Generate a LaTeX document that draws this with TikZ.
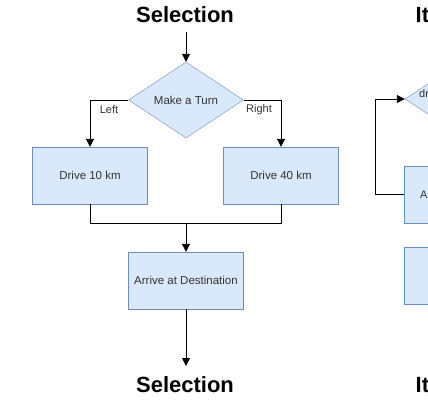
\documentclass[tikz,border=0pt]{standalone}
\usepackage{fontspec}
\setmainfont{Liberation Sans}
\usetikzlibrary{shapes.geometric,arrows.meta}
\definecolor{boxfill}{HTML}{DAE8FC}
\definecolor{boxline}{HTML}{6C8EBF}
\definecolor{txt}{HTML}{333333}
\begin{document}
\begin{tikzpicture}[x=1pt,y=-1pt,
  box/.style={draw=boxline, fill=boxfill, minimum width=115pt, minimum height=57pt, inner sep=0pt, font=\fontsize{11.5}{14}\selectfont, text=txt},
  dia/.style={diamond, draw=boxline, fill=boxfill, minimum width=115pt, minimum height=76pt, inner sep=0pt, font=\fontsize{11.5}{14}\selectfont, text=txt},
  title/.style={font=\fontsize{22}{26}\selectfont\bfseries, inner sep=0pt},
  lbl/.style={font=\fontsize{11}{13}\selectfont, text=txt, inner sep=0pt},
  conn/.style={draw=black, line width=0.9pt},
  arr/.style={conn, -{Triangle[length=8pt,width=8pt]}}]
\useasboundingbox (0,0) rectangle (428,400);
\clip (0,0) rectangle (428,400);
% Selection flowchart
\node[title] (t1) at (185,14.5) {Selection};
\node[dia] (d) at (186,100) {Make a Turn};
\node[box] (b1) at (90,175.5) {Drive 10 km};
\node[box] (b2) at (281,175.5) {Drive 40 km};
\node[box] (b3) at (186,280.5) {Arrive at Destination};
\node[title] (t2) at (185,385) {Selection};
\coordinate (top) at (186,32);
\coordinate (bot) at (186,366);
\coordinate (m) at (186,223);
\draw[arr] (top) -- (d.north);
\draw[arr] (d.west) -| (b1.north);
\draw[arr] (d.east) -| (b2.north);
\node[lbl] (l1) at (109,110) {Left};
\node[lbl] (l2) at (259,110) {Right};
\draw[conn] (b1.south) |- (m);
\draw[conn] (b2.south) |- (m);
\draw[arr] (m) -- (b3.north);
\draw[arr] (b3.south) -- (bot);
% Iteration flowchart (cut off at the right edge)
\node[title, anchor=west] (t3) at (415.5,14.5) {Iteration};
\node[title, anchor=west] (t4) at (415.5,385) {Iteration};
\node[dia] (rd) at (462.5,99) {};
\node[lbl, anchor=west] (rdt) at (419,94) {dr};
\node[box] (ra) at (461.5,194.5) {};
\node[lbl, anchor=west] (rat) at (420,194.5) {A};
\node[box] (rb) at (461.5,276) {};
\draw[arr] (ra.west) -- ++(-28,0) |- (rd.west);
\end{tikzpicture}
\end{document}
